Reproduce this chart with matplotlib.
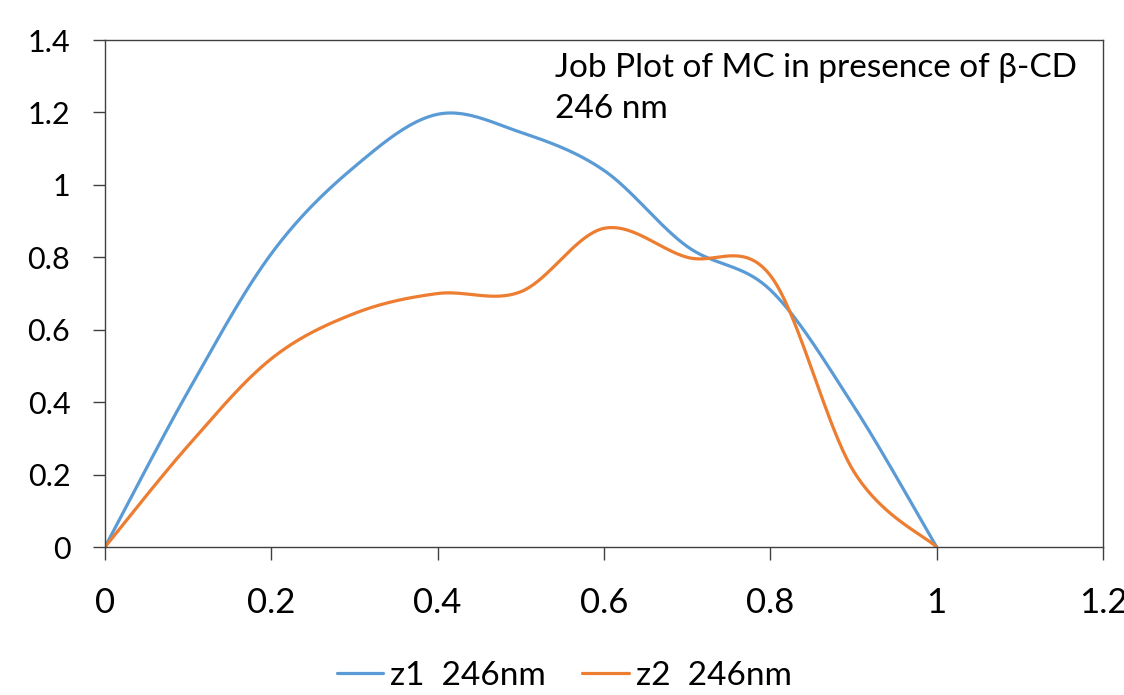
import numpy as np
import matplotlib
matplotlib.use("Agg")
import matplotlib.pyplot as plt

plt.rcParams['font.family'] = ['Lato', 'DejaVu Sans']

mole_fraction = [0.0, 0.1, 0.2, 0.3, 0.4, 0.5, 0.6, 0.7, 0.8, 0.9, 1.0]
z1_246 = [0.0, 0.43, 0.81, 1.05, 1.195, 1.145, 1.04, 0.83, 0.71, 0.39, 0.0]
z2_246 = [0.0, 0.28, 0.52, 0.645, 0.70, 0.705, 0.88, 0.80, 0.75, 0.21, 0.0]
series_names = ["z1  246nm", "z2  246nm"]
x_ticks = [0, 0.2, 0.4, 0.6, 0.8, 1.0, 1.2]
y_ticks = [0, 0.2, 0.4, 0.6, 0.8, 1.0, 1.2, 1.4]


def smooth_line(xs, ys, n=40):
    # Excel-like smoothed line: cubic Bezier through every point
    p = np.column_stack([xs, ys]).astype(float)
    ext = np.vstack([p[0], p, p[-1]])
    t = np.linspace(0, 1, n)[:, None]
    out = []
    for i in range(len(p) - 1):
        p0, p3 = p[i], p[i + 1]
        c1 = p0 + (ext[i + 2] - ext[i]) / 6
        c2 = p3 - (ext[i + 3] - ext[i + 1]) / 6
        seg = ((1 - t) ** 3) * p0 + 3 * ((1 - t) ** 2) * t * c1 \
            + 3 * (1 - t) * t ** 2 * c2 + t ** 3 * p3
        out.append(seg if i == 0 else seg[1:])
    out = np.vstack(out)
    return out[:, 0], out[:, 1]


fig = plt.figure(figsize=(11.24, 6.95), dpi=100)
ax = fig.add_axes([0.0934, 0.2129, 0.8879, 0.7295])

colors = ["#5B9BD5", "#ED7D31"]
for vals, name, col in zip([z1_246, z2_246], series_names, colors):
    sx, sy = smooth_line(mole_fraction, vals)
    ax.plot(sx, sy, color=col, lw=2.3, label=name, solid_capstyle='round')

ax.set_xlim(0, 1.2)
ax.set_ylim(0, 1.4)
ax.set_xticks(x_ticks)
ax.set_xticklabels(["0", "0.2", "0.4", "0.6", "0.8", "1", "1.2"])
ax.set_yticks(y_ticks)
ax.set_yticklabels(["0", "0.2", "0.4", "0.6", "0.8", "1", "1.2", "1.4"])

for s in ax.spines.values():
    s.set_color("#404040")
    s.set_linewidth(1.0)
ax.tick_params(axis='x', direction='out', length=9, width=1.0, color="#404040",
               labelsize=25, pad=20)
ax.tick_params(axis='y', direction='out', length=9, width=1.0, color="#404040",
               labelsize=22, pad=16)

ax.text(0.451, 0.975, "Job Plot of MC in presence of β-CD\n246 nm",
        transform=ax.transAxes, fontsize=24, va='top', ha='left',
        linespacing=1.45)

ax.legend(loc='upper center', bbox_to_anchor=(0.46, -0.165), ncol=2,
          frameon=False, fontsize=24, handlelength=1.4, handletextpad=0.2,
          columnspacing=1.1)

fig.savefig("out.png", dpi=100)
